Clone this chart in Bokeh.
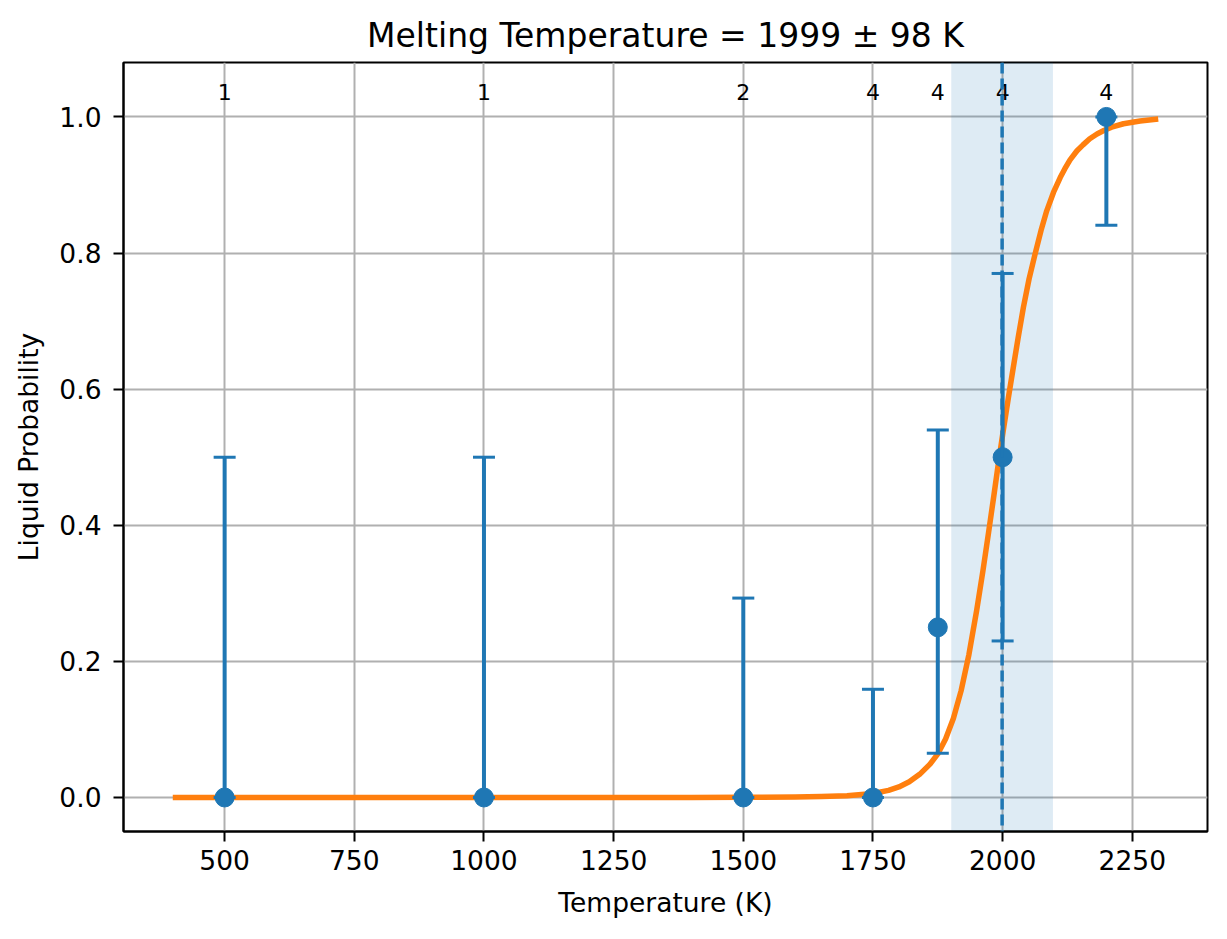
from bokeh.plotting import figure
from bokeh.models import Range1d, FixedTicker, PrintfTickFormatter, BoxAnnotation, Span, ColumnDataSource
from bokeh.embed import file_html
from bokeh.resources import INLINE

# ---- data ----
temps = [500, 1000, 1500, 1750, 1875, 2000, 2200]
prob = [0.0, 0.0, 0.0, 0.0, 0.25, 0.5, 1.0]
err_lo = [0.0, 0.0, 0.0, 0.0, 0.065, 0.23, 0.841]
err_hi = [0.5, 0.5, 0.293, 0.159, 0.54, 0.77, 1.0]
counts = ["1", "1", "2", "4", "4", "4", "4"]

tm_mean = 1999
tm_err = 98

curve_T = [400, 1000, 1400, 1500, 1600, 1650, 1700, 1750, 1780, 1800, 1820, 1840, 1860,
           1875, 1890, 1905, 1920, 1935, 1950, 1962, 1973, 1983, 1992, 2001, 2011,
           2021, 2030, 2040, 2051, 2063, 2074, 2085, 2098, 2111, 2120, 2130, 2143, 2155, 2168,
           2182, 2195, 2210, 2233, 2265, 2300]
curve_p = [0.0, 0.0, 0.0001, 0.0002, 0.0006, 0.0013, 0.0025, 0.0058, 0.0105, 0.0155, 0.023, 0.034, 0.049,
           0.064, 0.086, 0.116, 0.157, 0.210, 0.275, 0.333, 0.390, 0.443, 0.492, 0.538, 0.587,
           0.634, 0.676, 0.720, 0.762, 0.800, 0.833, 0.862, 0.889, 0.911, 0.924, 0.937, 0.950, 0.959, 0.968,
           0.975, 0.980, 0.985, 0.990, 0.994, 0.997]

x_ticks = [500, 750, 1000, 1250, 1500, 1750, 2000, 2250]
y_ticks = [0.0, 0.2, 0.4, 0.6, 0.8, 1.0]

C0 = "#1f77b4"
C1 = "#ff7f0e"
FONT = "DejaVu Sans"

p = figure(width=1227, height=939, output_backend="svg", toolbar_location=None,
           x_range=Range1d(305, 2395), y_range=Range1d(-0.05, 1.08),
           min_border_left=123, min_border_right=20, min_border_top=62, min_border_bottom=108,
           title=f"Melting Temperature = {tm_mean} \u00b1 {tm_err} K")

p.title.text_font = FONT
p.title.text_font_size = "33px"
p.title.text_font_style = "normal"
p.title.align = "center"
p.title.text_color = "black"
p.title.standoff = 15

p.outline_line_color = "black"
p.outline_line_width = 2
p.outline_line_alpha = 1

for ax in (p.xaxis[0], p.yaxis[0]):
    ax.axis_line_color = "black"
    ax.axis_line_width = 2
    ax.major_tick_out = 10
    ax.major_tick_in = 0
    ax.major_tick_line_width = 2
    ax.major_tick_line_color = "black"
    ax.minor_tick_line_color = None
    ax.major_label_text_font = FONT
    ax.major_label_text_font_size = "26.5px"
    ax.major_label_text_color = "black"
    ax.axis_label_text_font = FONT
    ax.axis_label_text_font_size = "26.5px"
    ax.axis_label_text_font_style = "normal"
    ax.axis_label_text_color = "black"

p.xaxis.ticker = FixedTicker(ticks=x_ticks)
p.yaxis.ticker = FixedTicker(ticks=y_ticks)
p.yaxis.formatter = PrintfTickFormatter(format="%.1f")
p.xaxis.axis_label = "Temperature (K)"
p.yaxis.axis_label = "Liquid Probability"
p.xaxis.major_label_standoff = 8
p.yaxis.major_label_standoff = 12
p.xaxis.axis_label_standoff = 14
p.yaxis.axis_label_standoff = 12

for g in (p.xgrid[0], p.ygrid[0]):
    g.grid_line_color = "#b0b0b0"
    g.grid_line_width = 2

band = BoxAnnotation(left=tm_mean - tm_err, right=tm_mean + tm_err,
                     fill_color=C0, fill_alpha=0.15, line_color=None, level="underlay")
p.add_layout(band)

# fitted curve
p.line(curve_T, curve_p, line_color=C1, line_width=5.5, line_join="round")

src = ColumnDataSource(dict(t=temps, p=prob, lo=err_lo, hi=err_hi, n=counts))
p.segment(x0="t", y0="lo", x1="t", y1="hi", source=src, line_color=C0, line_width=4)
p.scatter(x="t", y="lo", source=src, marker="dash", size=22, line_color=C0, line_width=3)
p.scatter(x="t", y="hi", source=src, marker="dash", size=22, line_color=C0, line_width=3)
p.scatter(x="t", y="p", source=src, marker="circle", size=19, fill_color=C0, line_color=C0)

p.add_layout(Span(location=tm_mean, dimension="height", line_color=C0,
                  line_width=3.5, line_dash="11 5"))

p.text(x="t", y=1.037, text="n", source=src, text_align="center",
       text_baseline="alphabetic", text_font_size="22px", text_color="black",
       text_font={"value": FONT})

open("out.html", "w").write(file_html(p, INLINE))
